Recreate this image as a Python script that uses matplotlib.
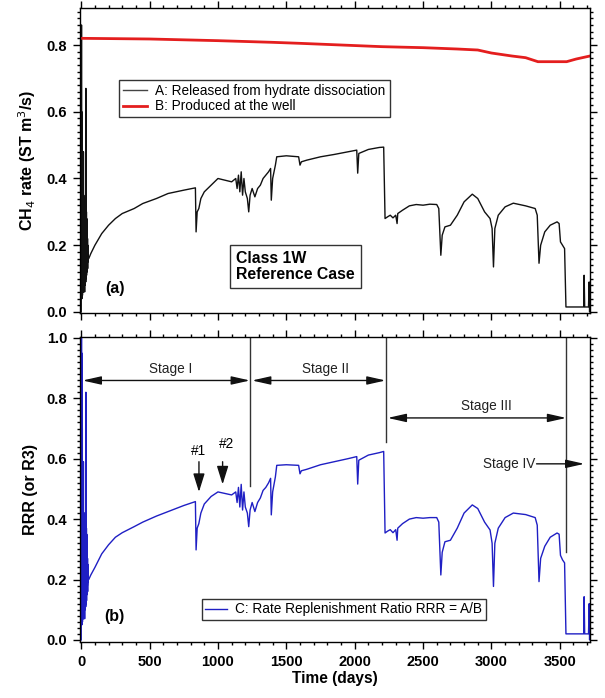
import matplotlib
matplotlib.use('Agg')
import matplotlib.pyplot as plt
from matplotlib.ticker import MultipleLocator

plt.rcParams['font.family'] = ['Liberation Sans', 'DejaVu Sans']

# simulation output times (days): dense at start-up, then sampled along the curve
days = list(range(0, 51)) + [
    55, 70, 100, 150, 200, 250, 300, 387, 450, 550, 635, 750,
    835, 840, 848, 860, 875, 900, 950, 1000, 1050, 1100, 1130, 1140, 1150, 1160,
    1170, 1180, 1190, 1200, 1215, 1225, 1235, 1250, 1270, 1290, 1310, 1330, 1350,
    1370, 1385, 1390, 1400, 1420, 1430, 1500, 1590, 1600, 1610, 1650, 1750, 1850,
    1950, 2015, 2022, 2030, 2100, 2180, 2212, 2222, 2240, 2260, 2280, 2300, 2310,
    2315, 2350, 2400, 2450, 2500, 2550, 2600, 2615, 2630, 2640, 2660, 2700, 2750,
    2800, 2860, 2900, 2950, 2990, 3005, 3015, 3025, 3050, 3100, 3160, 3250, 3320,
    3335, 3348, 3360, 3390, 3430, 3480, 3495, 3505, 3520, 3535, 3545, 3600, 3675,
    3678, 3682, 3710, 3715, 3718, 3720]

# A: CH4 released from hydrate dissociation (ST m3/s)
a_rate = [0.0, 0.30, 0.86, 0.05, 0.60, 0.04, 0.48, 0.06, 0.45, 0.05, 0.48, 0.07, 0.46,
          0.06, 0.34, 0.08, 0.48, 0.06, 0.35, 0.09, 0.34, 0.07, 0.33, 0.10, 0.34, 0.06,
          0.32, 0.11, 0.34, 0.08, 0.30, 0.12, 0.33, 0.09, 0.67, 0.10, 0.34, 0.13, 0.30,
          0.11, 0.28, 0.14, 0.27, 0.12, 0.25, 0.15, 0.22, 0.13, 0.20, 0.15, 0.17,
          0.16, 0.175, 0.20, 0.235, 0.26, 0.28, 0.295, 0.31, 0.325, 0.34, 0.355, 0.365,
          0.372, 0.24, 0.30, 0.31, 0.34, 0.36, 0.38, 0.40, 0.395, 0.39, 0.40, 0.37, 0.41,
          0.36, 0.42, 0.35, 0.40, 0.36, 0.34, 0.30, 0.35, 0.37, 0.345, 0.37, 0.38, 0.40,
          0.41, 0.42, 0.43, 0.335, 0.40, 0.44, 0.465, 0.468, 0.465, 0.44, 0.45, 0.455,
          0.465, 0.472, 0.48, 0.485, 0.416, 0.475, 0.487, 0.493, 0.494, 0.28, 0.285, 0.29,
          0.282, 0.29, 0.265, 0.295, 0.305, 0.318, 0.322, 0.32, 0.323, 0.322, 0.31, 0.17,
          0.23, 0.255, 0.26, 0.29, 0.33, 0.353, 0.34, 0.30, 0.28, 0.25, 0.135, 0.25, 0.29,
          0.315, 0.326, 0.318, 0.31, 0.29, 0.146, 0.20, 0.24, 0.26, 0.27, 0.265, 0.21,
          0.20, 0.19, 0.015, 0.015, 0.015, 0.11, 0.015, 0.015, 0.09, 0.0, 0.06]

# B: CH4 produced at the well (ST m3/s)
b_days = [0, 500, 1000, 1400, 1600, 1900, 2200, 2500, 2750, 2900, 3000, 3150, 3250, 3340,
          3450, 3550, 3620, 3720]
b_rate = [0.82, 0.818, 0.813, 0.808, 0.805, 0.80, 0.795, 0.792, 0.788, 0.785, 0.776, 0.767,
          0.762, 0.750, 0.750, 0.750, 0.758, 0.767]

# C: rate replenishment ratio RRR
c_rrr = [0.0, 0.50, 1.0, 0.06, 0.95, 0.05, 0.74, 0.08, 0.70, 0.06, 0.59, 0.08, 0.58,
         0.07, 0.45, 0.09, 0.59, 0.07, 0.42, 0.10, 0.41, 0.08, 0.41, 0.12, 0.42, 0.07,
         0.40, 0.13, 0.41, 0.10, 0.37, 0.14, 0.40, 0.11, 0.82, 0.12, 0.41, 0.16, 0.37,
         0.13, 0.35, 0.17, 0.33, 0.15, 0.30, 0.18, 0.27, 0.16, 0.25, 0.19, 0.21,
         0.20, 0.215, 0.24, 0.285, 0.315, 0.34, 0.355, 0.375, 0.39, 0.41, 0.425, 0.445,
         0.458, 0.298, 0.37, 0.385, 0.42, 0.45, 0.475, 0.49, 0.485, 0.48, 0.49, 0.455,
         0.505, 0.44, 0.515, 0.43, 0.49, 0.44, 0.42, 0.375, 0.43, 0.455, 0.425, 0.455,
         0.47, 0.495, 0.505, 0.52, 0.535, 0.414, 0.49, 0.54, 0.578, 0.58, 0.578, 0.55,
         0.56, 0.565, 0.58, 0.59, 0.60, 0.607, 0.516, 0.595, 0.612, 0.62, 0.624, 0.354,
         0.36, 0.365, 0.355, 0.365, 0.33, 0.37, 0.385, 0.40, 0.405, 0.403, 0.405, 0.405,
         0.39, 0.215, 0.29, 0.325, 0.33, 0.37, 0.42, 0.447, 0.435, 0.39, 0.364, 0.32,
         0.177, 0.32, 0.37, 0.405, 0.42, 0.415, 0.405, 0.38, 0.193, 0.27, 0.31, 0.34,
         0.354, 0.35, 0.28, 0.265, 0.255, 0.02, 0.02, 0.02, 0.143, 0.02, 0.02, 0.12, 0.0,
         0.08]

# stage boundaries (days)
stage_bounds = [0, 1234, 2226, 3547]

FS_TXT = 9.8

fig = plt.figure(figsize=(6.05, 6.98), dpi=100)
ax1 = fig.add_axes([0.132, 0.5516, 0.843, 0.437])
ax2 = fig.add_axes([0.132, 0.0802, 0.843, 0.437])

for ax in (ax1, ax2):
    ax.set_xlim(-10, 3720)
    ax.xaxis.set_major_locator(MultipleLocator(500))
    ax.xaxis.set_minor_locator(MultipleLocator(100))
    ax.yaxis.set_major_locator(MultipleLocator(0.2))
    ax.yaxis.set_minor_locator(MultipleLocator(0.02))
    ax.tick_params(which='both', direction='out', top=True, right=True, width=1)
    ax.tick_params(which='major', length=5, labelsize=10.5, pad=4)
    ax.tick_params(which='minor', length=2.5)
    for s in ax.spines.values():
        s.set_linewidth(1)

# ── panel (a) ──
ax1.plot(days, a_rate, color='#111111', lw=1.0, label='A: Released from hydrate dissociation')
ax1.plot(b_days, b_rate, color='#e41e1e', lw=2.0, label='B: Produced at the well')
ax1.set_ylim(-0.003, 0.911)
ax1.tick_params(labelbottom=False)
ax1.set_ylabel('CH$_4$ rate (ST m$^3$/s)', fontsize=11.5, fontweight='bold', labelpad=6)
leg = ax1.legend(loc='upper left', bbox_to_anchor=(0.076, 0.764), borderaxespad=0,
                 fancybox=False, edgecolor='#333333', fontsize=FS_TXT, handlelength=1.8,
                 handletextpad=0.6, borderpad=0.3, labelspacing=0.1, framealpha=1)
leg.get_lines()[0].set_color('#444444')
ax1.text(0.307, 0.152, 'Class 1W\nReference Case', transform=ax1.transAxes,
         ha='left', va='center', fontsize=11.4, fontweight='bold', linespacing=1.05,
         bbox=dict(boxstyle='square,pad=0.4', fc='white', ec='#333333', lw=1))
ax1.text(0.068, 0.08, '(a)', transform=ax1.transAxes, fontsize=11.5, fontweight='bold',
         ha='center', va='center')

# ── panel (b) ──
ax2.plot(days, c_rrr, color='#1f1fc4', lw=1.0, label='C: Rate Replenishment Ratio RRR = A/B')
ax2.set_ylim(-0.007, 1.003)
ax2.set_ylabel('RRR (or R3)', fontsize=11.5, fontweight='bold', labelpad=6)
ax2.set_xlabel('Time (days)', fontsize=11.2, fontweight='bold', labelpad=2)
ax2.legend(loc='upper left', bbox_to_anchor=(0.239, 0.141), borderaxespad=0,
           fancybox=False, edgecolor='#333333', fontsize=FS_TXT, handlelength=1.6,
           handletextpad=0.6, borderpad=0.25, framealpha=1)
ax2.text(0.068, 0.085, '(b)', transform=ax2.transAxes, fontsize=11.5, fontweight='bold',
         ha='center', va='center')

for lab in ax1.get_yticklabels() + ax2.get_yticklabels() + ax2.get_xticklabels():
    lab.set_fontweight('bold')

# stage divider lines
ax2.plot([stage_bounds[1]] * 2, [0.51, 1.003], color='#333333', lw=1)
ax2.plot([stage_bounds[2]] * 2, [0.656, 1.003], color='#333333', lw=1)
ax2.plot([stage_bounds[3]] * 2, [0.29, 1.003], color='#333333', lw=1)

arrow_kw = dict(arrowstyle='<|-|>,head_length=0.8,head_width=0.18', color='#111111',
                lw=1, mutation_scale=14, shrinkA=0, shrinkB=0)
ax2.annotate('', xy=(stage_bounds[1], 0.859), xytext=(stage_bounds[0] + 10, 0.859),
             arrowprops=arrow_kw)
ax2.annotate('', xy=(stage_bounds[2], 0.859), xytext=(stage_bounds[1] + 15, 0.859),
             arrowprops=arrow_kw)
ax2.annotate('', xy=(stage_bounds[3], 0.735), xytext=(stage_bounds[2] + 15, 0.735),
             arrowprops=arrow_kw)
ax2.annotate('', xy=(3680, 0.583), xytext=(3330, 0.583),
             arrowprops=dict(arrowstyle='-|>,head_length=0.8,head_width=0.18',
                             color='#111111', lw=1, mutation_scale=14,
                             shrinkA=0, shrinkB=0))
ax2.text(657, 0.897, 'Stage I', fontsize=FS_TXT, ha='center', va='center', color='#222222')
ax2.text(1790, 0.897, 'Stage II', fontsize=FS_TXT, ha='center', va='center', color='#222222')
ax2.text(2960, 0.773, 'Stage III', fontsize=FS_TXT, ha='center', va='center', color='#222222')
ax2.text(3325, 0.583, 'Stage IV', fontsize=FS_TXT, ha='right', va='center', color='#222222')

# event markers #1, #2
down_kw = dict(arrowstyle='-|>,head_length=0.8,head_width=0.25', color='#111111', lw=1,
               mutation_scale=14, shrinkA=0, shrinkB=0)
ax2.annotate('', xy=(861, 0.49), xytext=(861, 0.59), arrowprops=down_kw)
ax2.annotate('', xy=(1034, 0.515), xytext=(1034, 0.59), arrowprops=down_kw)
ax2.text(861, 0.625, '#1', fontsize=FS_TXT, ha='center', va='center')
ax2.text(1065, 0.648, '#2', fontsize=FS_TXT, ha='center', va='center')

fig.savefig('out.png', dpi=100, facecolor='white')
